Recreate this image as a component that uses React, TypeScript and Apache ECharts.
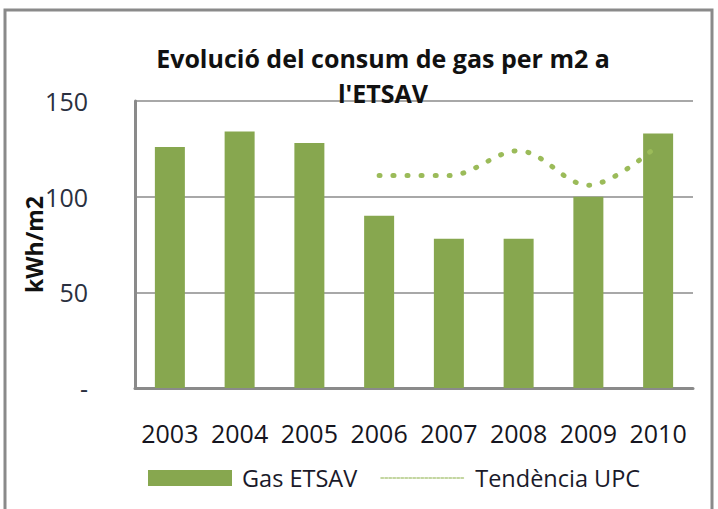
import React, { useEffect, useRef } from "react";
import * as echarts from "echarts";

const years = ["2003", "2004", "2005", "2006", "2007", "2008", "2009", "2010"];
const gasEtsav = [126, 134, 128, 90, 78, 78, 100, 133];
const tendenciaUpc = [null, null, null, 111, 111, 124, 106, 127];
const yTicks = [0, 50, 100, 150];

export default function App() {
  const ref = useRef<HTMLDivElement>(null);
  useEffect(() => {
    if (!ref.current) return;
    const chart = echarts.init(ref.current, null, { renderer: "svg" });
    const font = "Open Sans";
    chart.setOption({
      animation: false,
      backgroundColor: "#ffffff",
      textStyle: { fontFamily: font },
      title: {
        text: "Evolució del consum de gas per m2 a\nl'ETSAV",
        left: 378,
        top: 35,
        textAlign: "center",
        textStyle: { fontFamily: font, fontSize: 25, fontWeight: "bold", color: "#111", lineHeight: 35 },
      },
      graphic: [
        {
          type: "rect",
          shape: { x: 5, y: 10, width: 707, height: 530 },
          style: { fill: "none", stroke: "#8a8a8a", lineWidth: 3 },
          silent: true,
        },
      ],
      grid: { left: 135, right: 25, top: 101, bottom: 121 },
      legend: {
        bottom: 14,
        left: 143,
        itemWidth: 84,
        itemHeight: 16,
        itemGap: 23,
        textStyle: { fontFamily: font, fontSize: 23.5, color: "#1a1a2a", padding: [0, 0, 0, 5] },
        data: [
          { name: "Gas ETSAV", icon: "rect" },
          {
            name: "Tendència UPC",
            lineStyle: { width: 2, type: [2, 2], color: "#c3d6a0" },
            itemStyle: { color: "rgba(0,0,0,0)", borderWidth: 0, opacity: 0 },
          },
        ],
      },
      xAxis: {
        type: "category",
        data: years,
        axisLine: { lineStyle: { color: "#8a8a8a", width: 3 } },
        axisTick: { show: false },
        axisLabel: { fontFamily: font, fontSize: 25, color: "#151520", margin: 32, interval: 0, hideOverlap: false },
      },
      yAxis: {
        type: "value",
        min: yTicks[0],
        max: yTicks[yTicks.length - 1],
        interval: 50,
        name: "kWh/m2",
        nameLocation: "middle",
        nameGap: 90,
        nameMoveOverlap: false,
        nameTextStyle: { fontFamily: font, fontSize: 23, fontWeight: "bold", color: "#111" },
        axisLine: { show: true, lineStyle: { color: "#8a8a8a", width: 3 } },
        axisTick: { show: false },
        splitLine: { lineStyle: { color: "#a8a8a8", width: 2 } },
        axisLabel: {
          fontFamily: font,
          fontSize: 25,
          color: "#2a3040",
          margin: 47,
          formatter: (v: number) => (v === 0 ? "-" : String(v)),
        },
      },
      series: [
        {
          name: "Gas ETSAV",
          type: "bar",
          data: gasEtsav,
          barWidth: 30,
          itemStyle: { color: "#87a74f" },
        },
        {
          name: "Tendència UPC",
          type: "line",
          data: tendenciaUpc,
          smooth: 0.35,
          symbol: "none",
          showSymbol: false,
          connectNulls: false,
          lineStyle: { color: "#9bbb59", width: 5, type: [1, 13], cap: "round" },
          itemStyle: { color: "#9bbb59" },
        },
      ],
    });
    return () => chart.dispose();
  }, []);
  return <div ref={ref} style={{ position: "fixed", left: 0, top: 0, width: 718, height: 509 }} />;
}
